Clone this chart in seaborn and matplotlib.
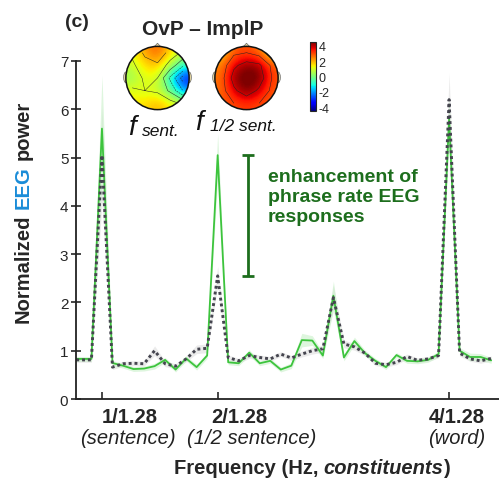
import matplotlib
matplotlib.use("Agg")
import matplotlib.pyplot as plt
import matplotlib.transforms as mtransforms
from matplotlib.cm import ScalarMappable
from matplotlib.colors import Normalize
from matplotlib.patches import Circle, Ellipse, Polygon
import numpy as np
import pandas as pd
import seaborn as sns

W, H = 499, 481

# spectrum bins: k / (11 sentences * 1.28 s)
bin_index = list(range(8, 49))
ovp_power = [0.83, 0.83, 0.83, 5.60, 0.745, 0.69, 0.62, 0.63, 0.68, 0.81, 0.61,
             0.84, 0.66, 0.90, 5.05, 0.76, 0.74, 0.96, 0.74, 0.79, 0.61, 0.69,
             1.22, 1.21, 0.90, 2.14, 0.86, 1.20, 0.95, 0.79, 0.66, 0.91, 0.79,
             0.78, 0.81, 0.93, 5.80, 1.00, 0.87, 0.87, 0.80]
implp_power = [0.81, 0.81, 0.81, 5.05, 0.66, 0.73, 0.74, 0.73, 1.00, 0.73, 0.68,
               0.83, 1.03, 1.05, 2.55, 0.86, 0.79, 0.90, 0.86, 0.83, 0.93, 0.85,
               0.93, 1.00, 1.04, 2.10, 1.14, 1.08, 0.95, 0.74, 0.71, 0.76, 0.88,
               0.80, 0.83, 0.90, 6.20, 0.95, 0.83, 0.79, 0.84]
ovp_sem = [0.05, 0.05, 0.05, 1.10, 0.05, 0.05, 0.05, 0.05, 0.06, 0.05, 0.05,
           0.05, 0.06, 0.06, 0.45, 0.05, 0.05, 0.06, 0.05, 0.05, 0.05, 0.06,
           0.14, 0.10, 0.06, 0.30, 0.07, 0.08, 0.06, 0.05, 0.05, 0.05, 0.05,
           0.05, 0.05, 0.06, 0.45, 0.06, 0.08, 0.07, 0.06]
implp_sem = [0.05, 0.05, 0.05, 1.00, 0.05, 0.05, 0.05, 0.05, 0.10, 0.06, 0.05,
             0.06, 0.09, 0.09, 0.20, 0.05, 0.05, 0.06, 0.05, 0.05, 0.05, 0.05,
             0.06, 0.07, 0.07, 0.25, 0.08, 0.07, 0.05, 0.05, 0.05, 0.05, 0.05,
             0.05, 0.05, 0.05, 0.55, 0.06, 0.05, 0.05, 0.05]

peak_ticks = [1 / 1.28, 2 / 1.28, 4 / 1.28]
peak_names = ["1/1.28", "2/1.28", "4/1.28"]
peak_units = ["(sentence)", "(1/2 sentence)", "(word)"]
name_x = [0.97, 1.71, 3.18]
unit_x = [0.956, 1.79, 3.176]
y_ticks = list(range(0, 8))
cbar_ticks = [-4, -2, 0, 2, 4]

# rough topographies (rows = front to back)
topo_sent = [[1.2, 2.2, 2.8, 1.6, 0.8],
             [0.8, 1.6, 1.8, 0.6, -0.8],
             [0.3, 1.2, 1.0, -1.2, -3.4],
             [1.2, 1.0, 0.8, -0.2, -2.0],
             [1.4, 1.6, 2.0, 1.4, 0.8]]
topo_half = [[1.6, 2.8, 3.0, 2.6, 1.2],
             [2.4, 3.8, 4.4, 4.2, 2.8],
             [2.6, 4.4, 4.8, 4.6, 3.0],
             [2.6, 3.8, 4.6, 3.8, 2.8],
             [2.8, 3.0, 3.2, 3.0, 2.8]]

GREEN = "#3dc43d"
DOTS = "#45454f"
DARK_GREEN = "#1d6e1d"
FONT = ["Liberation Sans", "DejaVu Sans"]

sns.set_style("ticks")
plt.rcParams["font.family"] = FONT
plt.rcParams["axes.unicode_minus"] = False

freq = [k / (11 * 1.28) for k in bin_index]
df = pd.DataFrame({"freq": freq, "ovp": ovp_power, "implp": implp_power,
                   "ovp_sem": ovp_sem, "implp_sem": implp_sem})

fig = plt.figure(figsize=(W / 100, H / 100), dpi=100)
ax = fig.add_axes([76 / W, 1 - 400 / H, 423 / W, 338 / H])

ax.fill_between(df["freq"], df["implp"] - df["implp_sem"], df["implp"] + df["implp_sem"],
                color="#dcdcdc", alpha=0.55, lw=0)
ax.fill_between(df["freq"], df["ovp"] - df["ovp_sem"], df["ovp"] + df["ovp_sem"],
                color="#c4efc4", alpha=0.55, lw=0)
sns.lineplot(data=df, x="freq", y="ovp", ax=ax, color=GREEN, lw=1.3)
sns.lineplot(data=df, x="freq", y="implp", ax=ax, color=DOTS, lw=2.1,
             linestyle=(0, (1, 1)))

ax.set_xlim(0.606, 3.462)
ax.set_ylim(0, 7)
ax.set_yticks(y_ticks)
ax.set_xticks(peak_ticks)
ax.set_xticklabels([""] * len(peak_ticks))
ax.set_xlabel("")
ax.set_ylabel("")
sns.despine(ax=ax)
for s in ("left", "bottom"):
    ax.spines[s].set_linewidth(1.3)
    ax.spines[s].set_color("#222222")
ax.tick_params(axis="y", direction="inout", length=7, width=1.2, labelsize=11, pad=2)
ax.tick_params(axis="x", direction="in", length=5, width=1.2)

trans = mtransforms.blended_transform_factory(ax.transData, ax.transAxes)
for x, s in zip(name_x, peak_names):
    ax.text(x, -0.053, s, transform=trans, ha="center", va="center",
            fontsize=14.5, fontweight="bold")
for x, s in zip(unit_x, peak_units):
    ax.text(x, -0.115, s, transform=trans, ha="center", va="center",
            fontsize=14.5, style="italic", color="#222222")

# enhancement bar between the two half-sentence peaks
i_half = bin_index.index(22)
lo, hi = implp_power[i_half], ovp_power[i_half]
ax.errorbar([1.77], [(lo + hi) / 2], yerr=[(hi - lo) / 2], color=DARK_GREEN,
            lw=2.0, capsize=4, capthick=2.0)

ident = mtransforms.IdentityTransform()


def rich_text(x, y, pieces, rotation=0, center=False):
    r = fig.canvas.get_renderer()
    texts, sizes = [], []
    for s, gap, kw in pieces:
        t = fig.text(0, 0, s, transform=ident, rotation=rotation,
                     rotation_mode="anchor", ha="left", va="baseline", **kw)
        bb = t.get_window_extent(r)
        texts.append(t)
        sizes.append((bb.width if rotation == 0 else bb.height) + gap)
    pos = -sum(sizes) / 2 if center else 0
    for t, w in zip(texts, sizes):
        if rotation == 0:
            t.set_position((x + pos, H - y))
        else:
            t.set_position((x, H - y + pos))
        pos += w


bold = dict(fontsize=14.5, fontweight="bold")
rich_text(312, 474, [("Frequency (Hz,", 5.5, bold),
                     ("constituents", 0, dict(bold, style="italic")),
                     (")", 0, bold)], center=True)
rich_text(29, 212, [("Normalized", 5.5, bold),
                    ("EEG", 5.5, dict(bold, color="#1a8cd8")),
                    ("power", 0, bold)], rotation=90, center=True)

fig.text(65 / W, 1 - 27 / H, "(c)", fontsize=14, fontweight="bold")
fig.text(203 / W, 1 - 35 / H, "OvP \u2013 ImplP", fontsize=15, fontweight="bold",
         ha="center")

for line, base in zip(["enhancement of", "phrase rate EEG", "responses"], [182, 202, 222]):
    fig.text(268 / W, 1 - base / H, line, fontsize=14, fontweight="bold",
             color=DARK_GREEN)

norm = Normalize(-4.5, 4.5)


def draw_head(cx, cy, grid):
    size = 74
    hax = fig.add_axes([(cx - size / 2) / W, 1 - (cy + size / 2) / H, size / W, size / H])
    hax.set_xlim(-1.17, 1.17)
    hax.set_ylim(-1.17, 1.17)
    hax.axis("off")
    for sx in (-1, 1):
        hax.add_patch(Ellipse((sx * 1.0, 0.02), 0.14, 0.34, fc="#e8d9a2", ec="#666", lw=0.5))
    hax.add_patch(Polygon([(-0.12, 0.97), (0, 1.1), (0.12, 0.97)], closed=True,
                          fc="#e8d9a2", ec="#666", lw=0.5))
    im = hax.imshow(np.array(grid), extent=(-1, 1, -1, 1), cmap="jet", norm=norm,
                    interpolation="bicubic", origin="upper", zorder=2)
    im.set_clip_path(Circle((0, 0), 1, transform=hax.transData))
    gx = np.linspace(-0.8, 0.8, 5)
    cs = hax.contour(gx, gx[::-1], np.array(grid), levels=np.arange(-4, 5, 1),
                     colors="#222", linewidths=0.35, zorder=3)
    cs.set_clip_path(Circle((0, 0), 1, transform=hax.transData))
    hax.add_patch(Circle((0, 0), 1, fc="none", ec="#111", lw=1.1, zorder=4))


draw_head(157.5, 79, topo_sent)
draw_head(246.5, 79, topo_half)

it = dict(style="italic", color="#111111")
fig.text(128 / W, 1 - 135 / H, "f", fontsize=20, **it)
fig.text(142 / W, 1 - 136 / H, "sent.", fontsize=12.5, **it)
fig.text(195 / W, 1 - 130 / H, "f", fontsize=20, **it)
fig.text(210 / W, 1 - 131 / H, "1/2 sent.", fontsize=12.5, **it)

cax = fig.add_axes([310 / W, 1 - 112 / H, 6 / W, 69 / H])
cb = fig.colorbar(ScalarMappable(norm=norm, cmap="jet"), cax=cax, ticks=cbar_ticks)
cb.ax.tick_params(length=0, labelsize=9, pad=2)
cb.outline.set_linewidth(0.8)

fig.savefig("out.png", dpi=100)
